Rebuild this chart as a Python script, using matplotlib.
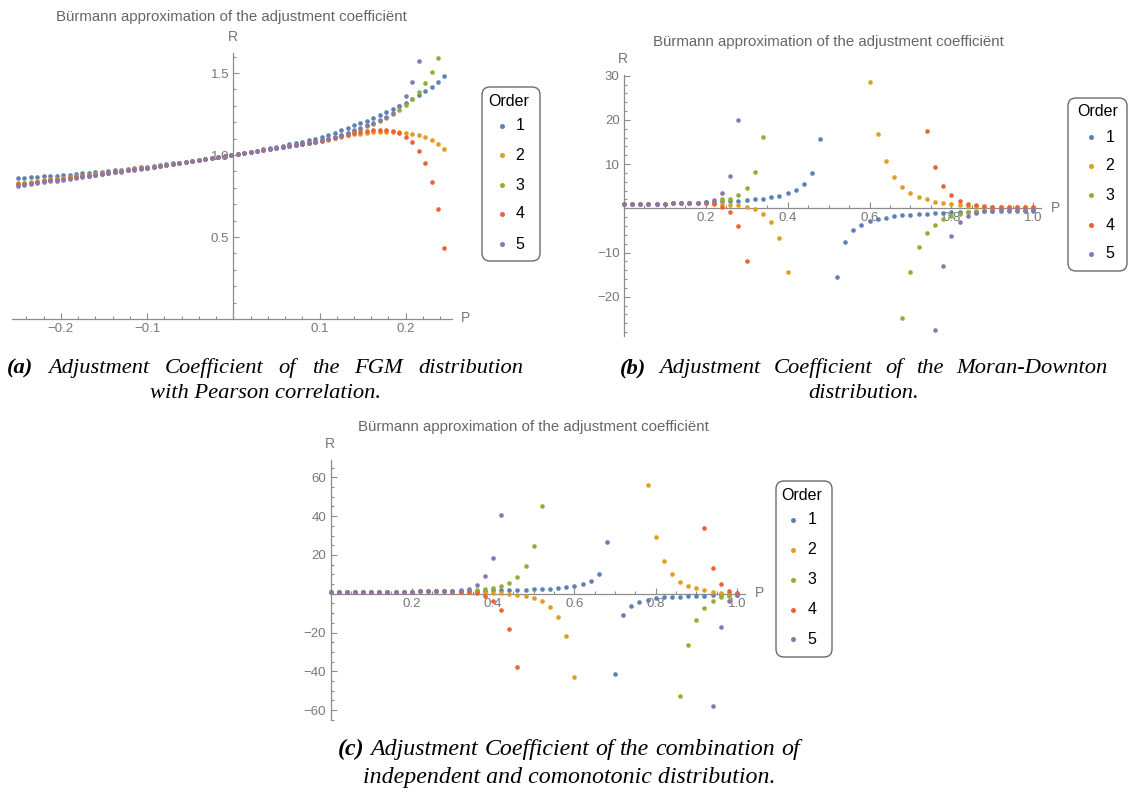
import numpy as np
import matplotlib
matplotlib.use("Agg")
import matplotlib.pyplot as plt
from matplotlib.patches import FancyBboxPatch
from matplotlib.offsetbox import TextArea, HPacker, AnnotationBbox
from matplotlib.ticker import FixedLocator, FixedFormatter, MultipleLocator

nan = np.nan
W, H = 1129, 794

ORDERS = ["1", "2", "3", "4", "5"]
COLORS = ["#5E81B5", "#E19C24", "#8FB032", "#EB6235", "#8778B3"]
TITLE = "Bürmann approximation of the adjustment coefficiënt"

# ---------------- panel (a): FGM, Pearson correlation ----------------
P_a = np.linspace(-0.25, 0.245, 67)
MID_a = [0.929, 0.934, 0.940, 0.946, 0.951, 0.957, 0.963, 0.969, 0.974, 0.980,
         0.986, 0.992, 0.998, 1.004, 1.010, 1.016, 1.022, 1.028, 1.035, 1.041,
         1.047, 1.053, 1.060, 1.066, 1.072, 1.079]
R1_a = [0.858, 0.861, 0.864, 0.867, 0.870, 0.872, 0.875, 0.878, 0.881, 0.885,
        0.888, 0.892, 0.895, 0.899, 0.903, 0.907, 0.911, 0.915, 0.920, 0.924,
        0.929, 0.934, 0.939, 0.944, 0.949, 0.954, 0.959, 0.965, 0.970, 0.976,
        0.982, 0.988, 0.994, 0.999, 1.005, 1.012, 1.019, 1.026, 1.034, 1.041,
        1.049, 1.057, 1.065, 1.073, 1.082, 1.091, 1.100, 1.112, 1.122, 1.136,
        1.152, 1.166, 1.181, 1.195, 1.209, 1.226, 1.242, 1.260, 1.279, 1.299,
        1.320, 1.342, 1.364, 1.390, 1.416, 1.447, 1.480]
R2_a = ([0.827, 0.832, 0.837, 0.842, 0.846, 0.851, 0.856, 0.861, 0.865, 0.870,
         0.874, 0.879, 0.884, 0.889, 0.893, 0.899, 0.903, 0.909, 0.913, 0.919, 0.923]
        + MID_a +
        [1.086, 1.094, 1.103, 1.112, 1.120, 1.126, 1.130, 1.134, 1.138, 1.140,
         1.142, 1.142, 1.138, 1.136, 1.130, 1.120, 1.108, 1.091, 1.067, 1.037])
R3_a = ([0.822, 0.827, 0.832, 0.837, 0.842, 0.847, 0.851, 0.856, 0.861, 0.866,
         0.871, 0.874, 0.880, 0.885, 0.890, 0.896, 0.901, 0.907, 0.912, 0.918, 0.923]
        + MID_a +
        [1.089, 1.098, 1.108, 1.119, 1.132, 1.146, 1.160, 1.175, 1.190, 1.205,
         1.225, 1.248, 1.272, 1.303, 1.340, 1.382, 1.437, 1.504, 1.590, nan])
R4_a = ([0.821, 0.826, 0.831, 0.836, 0.841, 0.846, 0.850, 0.855, 0.860, 0.865,
         0.870, 0.874, 0.880, 0.885, 0.890, 0.896, 0.901, 0.907, 0.912, 0.918, 0.923]
        + MID_a +
        [1.087, 1.096, 1.106, 1.116, 1.122, 1.132, 1.138, 1.146, 1.150, 1.152,
         1.152, 1.146, 1.134, 1.112, 1.077, 1.026, 0.949, 0.837, 0.672, 0.432])
R5_a = ([0.813, 0.818, 0.823, 0.828, 0.834, 0.839, 0.844, 0.849, 0.855, 0.860,
         0.865, 0.870, 0.877, 0.882, 0.888, 0.894, 0.899, 0.906, 0.911, 0.917, 0.923]
        + MID_a +
        [1.090, 1.100, 1.111, 1.122, 1.136, 1.150, 1.165, 1.180, 1.196, 1.212,
         1.232, 1.258, 1.300, 1.360, 1.445, 1.573, nan, nan, nan, nan])

# ---------------- panel (b): Moran-Downton ----------------
P_b = np.linspace(0.0, 1.0, 51)
FLAT_b = [1.00, 1.01, 1.02, 1.03, 1.05, 1.07, 1.09, 1.12, 1.16, 1.21]
R1_b = FLAT_b + [1.35, 1.45, 1.55, 1.65, 1.70, 1.80, 2.0, 2.2, 2.5, 2.8,
                 3.35, 4.1, 5.4, 7.9, 15.7, nan, -15.5, -7.7, -5.0, -3.8,
                 -2.9, -2.4, -2.1, -1.8, -1.6, -1.45, -1.35, -1.2, -1.1, -1.0,
                 -0.95, -0.85, -0.8, -0.75, -0.7, -0.65, -0.6, -0.57, -0.55, -0.52, -0.5]
R2_b = FLAT_b + [1.2, 1.1, 0.9, 0.85, 0.65, 0.35, -0.2, -1.2, -3.0, -6.7, -14.3,
                 nan, nan, nan, nan, nan, nan, nan, nan, nan,
                 28.5, 16.7, 10.6, 7.0, 4.9, 3.5, 2.6, 2.0, 1.5, 1.2,
                 0.9, 0.7, 0.55, 0.45, 0.38, 0.32, 0.28, 0.25, 0.22, 0.2, 0.2]
R3_b = FLAT_b + [1.4, 1.45, 2.0, 2.15, 3.0, 4.7, 8.3, 16.2,
                 nan, nan, nan, nan, nan, nan, nan, nan,
                 nan, nan, nan, nan, nan, nan, nan, nan,
                 -24.8, -14.5, -8.8, -5.7, -3.7, -2.5, -1.8, -1.2, -0.9, -0.7,
                 -0.55, -0.45, -0.4, -0.35, -0.3, -0.3, -0.25]
R4_b = FLAT_b + [1.1, 0.9, 0.3, -0.9, -3.9, -11.9,
                 nan, nan, nan, nan, nan, nan, nan, nan, nan, nan, nan,
                 nan, nan, nan, nan, nan, nan, nan, nan, nan, nan,
                 17.4, 9.35, 5.1, 2.9, 1.7, 1.05, 0.7, 0.45, 0.35, 0.3,
                 0.25, 0.22, 0.2, 0.2]
R5_b = FLAT_b + [1.5, 1.95, 3.4, 7.4, 19.9,
                 nan, nan, nan, nan, nan, nan, nan, nan, nan, nan, nan, nan,
                 nan, nan, nan, nan, nan, nan, nan, nan, nan, nan, nan,
                 -27.6, -13.0, -6.3, -3.2, -1.7, -1.0, -0.7, -0.55, -0.45, -0.4,
                 -0.35, -0.3, -0.3]

# ---------------- panel (c): independent + comonotonic ----------------
P_c = np.linspace(0.0, 1.0, 51)
FLAT_c = [1.0, 1.0, 1.0, 1.01, 1.02, 1.03, 1.04, 1.05, 1.07, 1.09,
          1.11, 1.14, 1.17, 1.21, 1.26]
R1_c = FLAT_c + [1.3, 1.4, 1.5, 1.55, 1.6, 1.65, 1.75, 1.85, 1.95, 2.05,
                 2.2, 2.4, 2.6, 2.9, 3.4, 3.9, 5.0, 6.5, 10.3, 26.4,
                 -41.2, -11.1, -6.3, -4.3, -3.3, -2.4, -1.9, -1.7, -1.5, -1.3,
                 -1.2, -1.0, -0.9, -0.85, -0.8, -0.8]
R2_c = FLAT_c + [1.2, 1.1, 1.05, 1.0, 0.5, 0.4, 0.2, 0.0, -0.5, -1.2,
                 -2.1, -3.9, -6.9, -12.0, -21.8, -42.7,
                 nan, nan, nan, nan, nan, nan, nan, nan,
                 56.1, 29.1, 16.6, 9.9, 6.2, 4.1, 2.7, 1.8, 1.0, 0.6, 0.4, 0.3]
R3_c = FLAT_c + [1.3, 1.4, 1.6, 1.9, 2.2, 2.9, 3.9, 5.5, 8.6, 14.2, 24.5, 45.3,
                 nan, nan, nan, nan, nan, nan, nan, nan,
                 nan, nan, nan, nan, nan, nan, nan, nan,
                 -52.5, -26.6, -13.7, -7.2, -3.8, -1.8, -0.95, -0.5]
R4_c = FLAT_c + [1.1, 0.9, 0.8, 0.3, -1.4, -3.9, -8.4, -18.0, -37.9,
                 nan, nan, nan, nan, nan, nan, nan, nan, nan, nan, nan,
                 nan, nan, nan, nan, nan, nan, nan, nan, nan, nan, nan,
                 33.9, 13.5, 5.0, 1.3, 0.4]
R5_c = FLAT_c + [1.3, 1.7, 2.6, 4.6, 8.9, 18.4, 40.5,
                 nan, nan, nan, nan, nan, nan, nan, nan, nan, nan, nan, nan, nan,
                 nan, nan, nan, nan, nan, nan, nan, nan, nan, nan, nan, nan,
                 -57.8, -17.2, -3.9, -0.6]

# ---------------- styling ----------------
SANS = ["Liberation Sans", "DejaVu Sans"]
SERIF = ["Liberation Serif", "DejaVu Serif"]
AXC = "#8c8c8c"
LBC = "#777777"
TTC = "#666666"
plt.rcParams["font.family"] = SANS

fig = plt.figure(figsize=(W / 100, H / 100), dpi=100)


def px(x, y):
    return (x / W, 1 - y / H)


def panel(ox, sx, oy, sy, xlim, ylim, xt, xl, xmin, yt, yl, ymin, series, P):
    left = ox + xlim[0] * sx
    right = ox + xlim[1] * sx
    top = oy - ylim[1] * sy
    bottom = oy - ylim[0] * sy
    ax = fig.add_axes([left / W, 1 - bottom / H, (right - left) / W, (bottom - top) / H])
    ax.set_xlim(*xlim)
    ax.set_ylim(*ylim)
    ax.patch.set_alpha(0)
    for s in ("top", "right"):
        ax.spines[s].set_visible(False)
    ax.spines["left"].set_position(("data", 0))
    ax.spines["bottom"].set_position(("data", 0))
    for s in ("left", "bottom"):
        ax.spines[s].set_color(AXC)
        ax.spines[s].set_linewidth(0.9)
    ax.xaxis.set_major_locator(FixedLocator(xt))
    ax.xaxis.set_major_formatter(FixedFormatter(xl))
    ax.xaxis.set_minor_locator(MultipleLocator(xmin))
    ax.yaxis.set_major_locator(FixedLocator(yt))
    ax.yaxis.set_major_formatter(FixedFormatter(yl))
    ax.yaxis.set_minor_locator(MultipleLocator(ymin))
    ax.tick_params(which="both", direction="in", color=AXC, width=0.8,
                   labelcolor=LBC, labelsize=9.5)
    ax.tick_params(which="major", length=4.5)
    ax.tick_params(which="minor", length=2.5)
    ax.tick_params(axis="x", pad=3)
    ax.tick_params(axis="y", pad=3)
    for R, c in zip(series, COLORS):
        ax.scatter(P, R, s=11, color=c, linewidths=0, clip_on=False, zorder=3)
    return ax


def legend(x0, y0, x1, y1, cx, ty, dx, nx, ys):
    box = FancyBboxPatch((x0 / 100, (H - y1) / 100), (x1 - x0) / 100, (y1 - y0) / 100,
                         boxstyle="round,pad=0,rounding_size=0.08",
                         transform=fig.dpi_scale_trans, facecolor="white",
                         edgecolor="#6b6b6b", linewidth=1.0)
    fig.add_artist(box)
    fig.text(*px(cx, ty), "Order", ha="center", va="center", fontsize=11.5, color="black")
    for lab, c, y in zip(ORDERS, COLORS, ys):
        fig.text(*px(nx, y), lab, ha="center", va="center", fontsize=11.5, color="black")
        fig.add_artist(plt.Line2D([dx / W], [1 - y / H], marker="o", markersize=3.6,
                                  color=c, markeredgewidth=0, transform=fig.transFigure))


def caption(cx, cy, words, fs=15, width=None):
    kids = [TextArea(words[0], textprops=dict(fontweight="bold", style="italic", fontsize=fs,
                                              family=SERIF, color="black"))]
    for w in words[1:]:
        kids.append(TextArea(w, textprops=dict(style="italic", fontsize=fs,
                                               family=SERIF, color="black")))
    if width is None:
        pk = HPacker(children=kids, align="baseline", pad=0, sep=fs * 0.25)
    else:
        pk = HPacker(children=kids, align="baseline", pad=0, sep=0, width=width, mode="expand")
    ab = AnnotationBbox(pk, (cx, H - cy), xycoords="figure pixels", box_alignment=(0.5, 0.5),
                        frameon=False, pad=0)
    fig.add_artist(ab)


# panel (a)
panel(233.3, 862, 319, 164, (-0.257, 0.254), (0.0, 1.62),
      [-0.2, -0.1, 0.1, 0.2], ["\u22120.2", "\u22120.1", "0.1", "0.2"], 0.02,
      [0.5, 1.0, 1.5], ["0.5", "1.0", "1.5"], 0.1,
      [R1_a, R2_a, R3_a, R4_a, R5_a], P_a)
fig.text(*px(231, 17), TITLE, ha="center", va="center", fontsize=10.8, color=TTC)
fig.text(*px(233, 37), "R", ha="center", va="center", fontsize=10, color=LBC)
fig.text(*px(465, 318), "P", ha="center", va="center", fontsize=10, color=LBC)
legend(482, 87, 540, 261, 509, 101, 502, 520, [126, 155, 185, 214, 244])

# panel (b)
panel(623.8, 409.5, 208.3, 4.42, (0.0, 1.02), (-29.0, 30.2),
      [0.2, 0.4, 0.6, 0.8, 1.0], ["0.2", "0.4", "0.6", "0.8", "1.0"], 0.05,
      [-20, -10, 10, 20, 30], ["\u221220", "\u221210", "10", "20", "30"], 2,
      [R1_b, R2_b, R3_b, R4_b, R5_b], P_b)
fig.text(*px(828, 42), TITLE, ha="center", va="center", fontsize=10.8, color=TTC)
fig.text(*px(623, 59), "R", ha="center", va="center", fontsize=10, color=LBC)
fig.text(*px(1055, 208), "P", ha="center", va="center", fontsize=10, color=LBC)
legend(1068, 98, 1127, 271, 1098, 112, 1091, 1110, [137, 166, 195, 225, 254])

# panel (c)
panel(330.5, 406.5, 593.7, 1.94, (0.0, 1.02), (-65.0, 69.0),
      [0.2, 0.4, 0.6, 0.8, 1.0], ["0.2", "0.4", "0.6", "0.8", "1.0"], 0.05,
      [-60, -40, -20, 20, 40, 60], ["\u221260", "\u221240", "\u221220", "20", "40", "60"], 5,
      [R1_c, R2_c, R3_c, R4_c, R5_c], P_c)
fig.text(*px(533, 427), TITLE, ha="center", va="center", fontsize=10.8, color=TTC)
fig.text(*px(330, 444), "R", ha="center", va="center", fontsize=10, color=LBC)
fig.text(*px(759, 593), "P", ha="center", va="center", fontsize=10, color=LBC)
legend(776, 481, 832, 657, 802, 496, 793, 812, [520, 550, 580, 610, 639])

# captions
caption(265, 368, ["(a)", "Adjustment", "Coefficient", "of", "the", "FGM", "distribution"],
        fs=16.2, width=517)
fig.text(*px(265, 394), "with Pearson correlation.", ha="center", va="center",
         fontsize=16.2, style="italic", family=SERIF)
caption(864, 368, ["(b)", "Adjustment", "Coefficient", "of", "the", "Moran-Downton"],
        fs=16.2, width=488)
fig.text(*px(864, 394), "distribution.", ha="center", va="center",
         fontsize=16.2, style="italic", family=SERIF)
caption(569, 749, ["(c)", "Adjustment", "Coefficient", "of", "the", "combination", "of"],
        fs=17.2, width=462)
fig.text(*px(569, 777), "independent and comonotonic distribution.", ha="center", va="center",
         fontsize=17.2, style="italic", family=SERIF)

fig.savefig("out.png", dpi=100)
